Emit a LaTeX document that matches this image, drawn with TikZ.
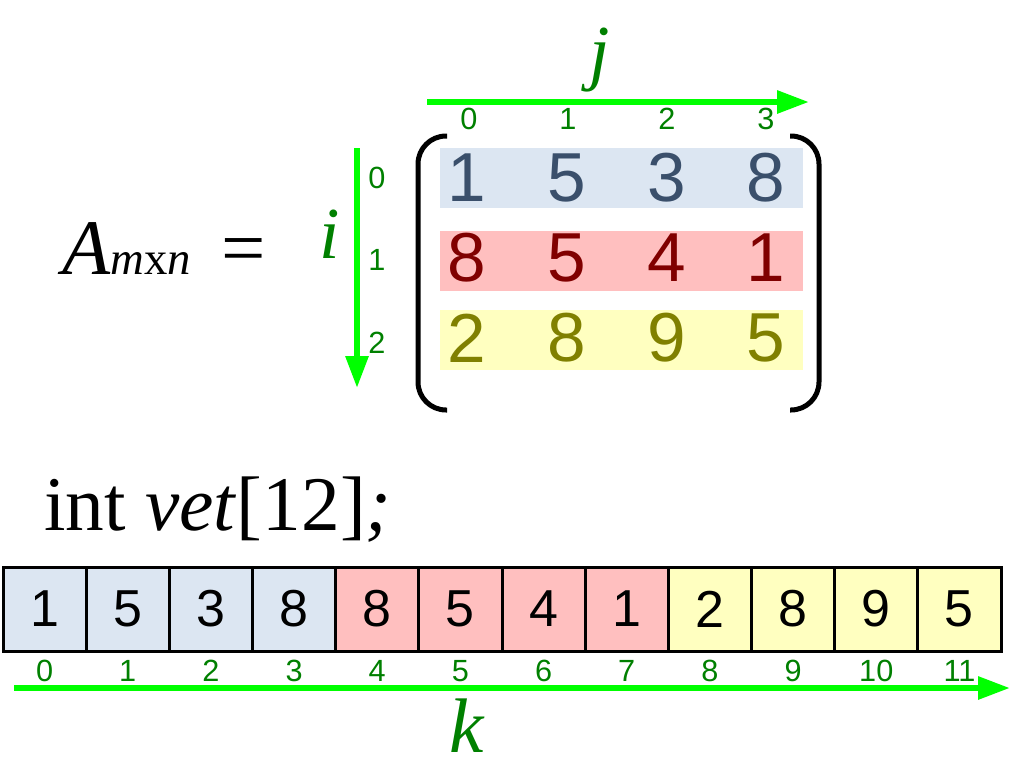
\documentclass[tikz,border=0pt]{standalone}
\usepackage{fontspec}
\setmainfont{Liberation Serif}
\newfontfamily\sansf{Liberation Sans}
\usetikzlibrary{arrows.meta}
\definecolor{axisgreen}{HTML}{00FF00}
\definecolor{labgreen}{HTML}{008000}
\definecolor{rowAfill}{HTML}{DCE6F2}
\definecolor{rowBfill}{HTML}{FFBFBF}
\definecolor{rowCfill}{HTML}{FFFFC0}
\definecolor{rowAtext}{HTML}{3A4F6B}
\definecolor{rowBtext}{HTML}{800000}
\definecolor{rowCtext}{HTML}{808000}
\tikzset{
  mdig/.style={inner sep=0pt, font=\sansf\fontsize{52}{52}\selectfont},
  band/.style={inner sep=0pt, outer sep=0pt, minimum width=272.25pt, minimum height=45pt},
  idx/.style={inner sep=0pt, text=labgreen, font=\sansf\fontsize{23}{23}\selectfont},
  cellbox/.style={draw=black, line width=2.25pt, inner sep=0pt, outer sep=0pt,
    minimum width=62.375pt, minimum height=63pt, font=\sansf\fontsize{39}{39}\selectfont},
  axis/.style={draw=axisgreen, line width=4.5pt, -{Triangle[length=24pt,width=16.5pt]}},
  brack/.style={draw=black, line width=3.75pt, rounded corners=21pt},
  axlabel/.style={inner sep=0pt, text=labgreen, font=\fontsize{55}{55}\selectfont\itshape},
}
\begin{document}
\begin{tikzpicture}[x=0.75pt, y=-0.75pt]
\useasboundingbox (0,0) rectangle (1011,775);

% A_mxn =
\node[anchor=base west, inner sep=0pt] (A) at (62,274)
  {{\fontsize{59}{59}\selectfont\itshape A}{\fontsize{35}{35}\selectfont\itshape m\upshape x\itshape n}};
\node[anchor=base west, inner sep=0pt, font=\fontsize{59}{59}\selectfont] (eq) at (221,274) {=};

% row bands
\node[band, fill=rowAfill] (r0) at (621.5,178) {};
\node[band, fill=rowBfill] (r1) at (621.5,261) {};
\node[band, fill=rowCfill] (r2) at (621.5,340) {};

% matrix digits
\foreach \v [count=\c from 0] in {1,5,3,8} {
  \pgfmathsetmacro{\xx}{467+99.7*\c}
  \node[mdig, text=rowAtext] (m0\c) at (\xx,178) {\v};
}
\foreach \v [count=\c from 0] in {8,5,4,1} {
  \pgfmathsetmacro{\xx}{467+99.7*\c}
  \node[mdig, text=rowBtext] (m1\c) at (\xx,258) {\v};
}
\foreach \v [count=\c from 0] in {2,8,9,5} {
  \pgfmathsetmacro{\xx}{467+99.7*\c}
  \node[mdig, text=rowCtext] (m2\c) at (\xx,338) {\v};
}

% brackets
\draw[brack] (447,136) -- (418,136) -- (418,410) -- (447,410);
\draw[brack] (790,136) -- (819,136) -- (819,410) -- (790,410);

% column indices and j axis
\foreach \c in {0,1,2,3} {
  \pgfmathsetmacro{\xx}{469+99*\c}
  \node[idx] (jc\c) at (\xx,119) {\c};
}
\coordinate (js) at (427,102);
\coordinate (je) at (809,102);
\draw[axis] (js) -- (je);
\node[axlabel, anchor=base] (jl) at (600,76) {j};

% row indices and i axis
\node[idx] (ir0) at (377,178) {0};
\node[idx] (ir1) at (377,260) {1};
\node[idx] (ir2) at (377,343) {2};
\coordinate (is) at (357,148);
\coordinate (ie) at (357,388);
\draw[axis] (is) -- (ie);
\node[axlabel, anchor=base] (il) at (330,258) {i};

% int vet[12];
\node[anchor=base west, inner sep=0pt, font=\fontsize{58}{58}\selectfont] (decl) at (44,530)
  {int \textit{vet}[12]\textit{;}};

% array cells
\foreach \v [count=\k from 0] in {1,5,3,8,8,5,4,1,2,8,9,5} {
  \pgfmathsetmacro{\xx}{3+83.1667*(\k+0.5)}
  \pgfmathtruncatemacro{\grp}{int(\k/4)}
  \ifcase\grp
    \node[cellbox, fill=rowAfill] (c\k) at (\xx,609) {\v};
  \or
    \node[cellbox, fill=rowBfill] (c\k) at (\xx,609) {\v};
  \else
    \node[cellbox, fill=rowCfill] (c\k) at (\xx,609) {\v};
  \fi
  \node[idx] (k\k) at (\xx,671) {\k};
}

% k axis
\coordinate (ks) at (14,688);
\coordinate (ke) at (1010,688);
\draw[axis] (ks) -- (ke);
\node[axlabel, anchor=base, font=\fontsize{58}{58}\selectfont\itshape] (kl) at (467,752) {k};
\end{tikzpicture}
\end{document}
